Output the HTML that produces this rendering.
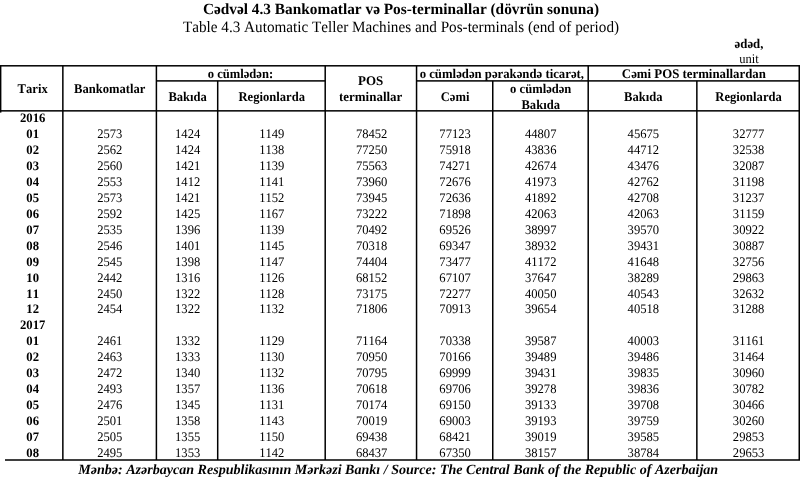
<!DOCTYPE html>
<html><head><meta charset="utf-8"><title>Cədvəl 4.3</title>
<style>
html,body{margin:0;padding:0;background:#fff;}
#w{position:absolute;left:0;top:0;width:800px;height:498px;overflow:hidden}
body{width:800px;height:498px;position:relative;overflow:hidden;font-family:"Liberation Serif",serif;color:#000;}
.t{text-rendering:geometricPrecision;font-kerning:none;font-variant-ligatures:none;position:absolute;white-space:nowrap;text-align:center;line-height:1;}
.b{font-weight:bold;}
.l{position:absolute;background:#000;}
.h{font-size:12.6px;font-weight:bold;}
.d{font-size:12.6px;}
.r{font-size:12.7px;font-weight:bold;}
</style></head><body><div id="w">

<svg width="800" height="498" viewBox="0 0 800 498" style="position:absolute;left:0;top:0" fill="#000"><rect x="0.00" y="65.05" width="800.00" height="1.50"/><rect x="0.00" y="110.10" width="800.00" height="1.50"/><rect x="5.00" y="459.25" width="795.00" height="1.50"/><rect x="156.40" y="80.15" width="168.80" height="1.50"/><rect x="416.55" y="80.15" width="383.45" height="1.50"/><rect x="0.00" y="65.80" width="1.40" height="46.80"/><rect x="798.50" y="65.80" width="1.50" height="394.20"/><rect x="62.10" y="65.80" width="1.50" height="394.20"/><rect x="155.65" y="65.80" width="1.50" height="394.20"/><rect x="324.45" y="65.80" width="1.50" height="394.20"/><rect x="415.80" y="65.80" width="1.50" height="394.20"/><rect x="587.45" y="65.80" width="1.50" height="394.20"/><rect x="216.95" y="80.90" width="1.50" height="379.10"/><rect x="492.00" y="80.90" width="1.50" height="379.10"/><rect x="696.10" y="80.90" width="1.50" height="379.10"/></svg>
<div class="t b" style="left:1.00px;width:800.00px;top:0.00px;height:20px;line-height:20px;font-size:15.56px;transform:scaleX(0.9852);">Cədvəl 4.3 Bankomatlar və Pos-terminallar (dövrün sonuna)</div>
<div class="t " style="left:1.00px;width:800.00px;top:18.00px;height:20px;line-height:20px;font-size:15.80px;transform:scaleX(0.9614);">Table 4.3 Automatic Teller Machines and Pos-terminals (end of period)</div>
<div class="t b" style="left:721.00px;width:56.00px;top:34.00px;height:20px;line-height:20px;font-size:13.33px;transform:scaleX(0.9602);">ədəd,</div>
<div class="t " style="left:721.00px;width:56.00px;top:48.50px;height:20px;line-height:20px;font-size:13.33px;transform:scaleX(0.9377);">unit</div>
<div class="t b" style="left:0.00px;width:800.00px;top:460.20px;height:20px;line-height:20px;font-size:14.06px;transform:scaleX(1.0000);transform-origin:0 50%;text-align:left;font-style:italic;left:78.2px;width:auto;">Mənbə: Azərbaycan Respublikasının Mərkəzi Bankı / Source: The Central Bank of the Republic of Azerbaijan</div>
<div class="t h" style="left:1.50px;width:61.35px;top:79.22px;height:20px;line-height:20px;font-size:13.20px;transform:scaleX(0.9545);">Tarix</div>
<div class="t h" style="left:62.85px;width:93.55px;top:79.22px;height:20px;line-height:20px;font-size:13.20px;transform:scaleX(0.9545);">Bankomatlar</div>
<div class="t h" style="left:155.70px;width:168.80px;top:63.95px;height:20px;line-height:20px;font-size:13.20px;transform:scaleX(0.9545);">o cümlədən:</div>
<div class="t h" style="left:157.00px;width:61.30px;top:86.78px;height:20px;line-height:20px;font-size:13.20px;transform:scaleX(0.9545);">Bakıda</div>
<div class="t h" style="left:217.70px;width:107.50px;top:86.78px;height:20px;line-height:20px;font-size:13.20px;transform:scaleX(0.9545);">Regionlarda</div>
<div class="t h" style="left:325.20px;width:91.35px;top:70.92px;height:20px;line-height:20px;font-size:13.20px;transform:scaleX(0.9832);">POS</div>
<div class="t h" style="left:325.20px;width:91.35px;top:86.72px;height:20px;line-height:20px;font-size:13.20px;transform:scaleX(0.9832);">terminallar</div>
<div class="t h" style="left:416.25px;width:171.65px;top:63.95px;height:20px;line-height:20px;font-size:13.20px;transform:scaleX(0.9670);">o cümlədən pərakəndə ticarət,</div>
<div class="t h" style="left:587.90px;width:211.80px;top:63.95px;height:20px;line-height:20px;font-size:13.20px;transform:scaleX(0.9736);">Cəmi POS terminallardan</div>
<div class="t h" style="left:416.55px;width:76.20px;top:86.78px;height:20px;line-height:20px;font-size:13.20px;transform:scaleX(0.9545);">Cəmi</div>
<div class="t h" style="left:492.75px;width:95.45px;top:79.28px;height:20px;line-height:20px;font-size:13.20px;transform:scaleX(0.9545);">o cümlədən</div>
<div class="t h" style="left:492.75px;width:95.45px;top:95.18px;height:20px;line-height:20px;font-size:13.20px;transform:scaleX(0.9545);">Bakıda</div>
<div class="t h" style="left:588.80px;width:108.65px;top:86.78px;height:20px;line-height:20px;font-size:13.20px;transform:scaleX(0.9545);">Bakıda</div>
<div class="t h" style="left:696.85px;width:103.15px;top:86.78px;height:20px;line-height:20px;font-size:13.20px;transform:scaleX(0.9545);">Regionlarda</div>
<div class="t r" style="left:1.50px;width:61.35px;top:108.05px;height:20px;line-height:20px;font-size:12.90px;transform:scaleX(0.9845);">2016</div>
<div class="t r" style="left:1.50px;width:61.35px;top:124.00px;height:20px;line-height:20px;font-size:12.90px;transform:scaleX(0.9845);">01</div>
<div class="t d" style="left:63.35px;width:93.55px;top:124.00px;height:20px;line-height:20px;font-size:13.10px;transform:scaleX(0.9618);">2573</div>
<div class="t d" style="left:156.90px;width:61.30px;top:124.00px;height:20px;line-height:20px;font-size:13.10px;transform:scaleX(0.9618);">1424</div>
<div class="t d" style="left:218.20px;width:107.50px;top:124.00px;height:20px;line-height:20px;font-size:13.10px;transform:scaleX(0.9618);">1149</div>
<div class="t d" style="left:325.70px;width:91.35px;top:124.00px;height:20px;line-height:20px;font-size:13.10px;transform:scaleX(0.9618);">78452</div>
<div class="t d" style="left:417.05px;width:76.20px;top:124.00px;height:20px;line-height:20px;font-size:13.10px;transform:scaleX(0.9618);">77123</div>
<div class="t d" style="left:493.25px;width:95.45px;top:124.00px;height:20px;line-height:20px;font-size:13.10px;transform:scaleX(0.9618);">44807</div>
<div class="t d" style="left:588.70px;width:108.65px;top:124.00px;height:20px;line-height:20px;font-size:13.10px;transform:scaleX(0.9618);">45675</div>
<div class="t d" style="left:697.35px;width:103.15px;top:124.00px;height:20px;line-height:20px;font-size:13.10px;transform:scaleX(0.9618);">32777</div>
<div class="t r" style="left:1.50px;width:61.35px;top:139.95px;height:20px;line-height:20px;font-size:12.90px;transform:scaleX(0.9845);">02</div>
<div class="t d" style="left:63.35px;width:93.55px;top:139.95px;height:20px;line-height:20px;font-size:13.10px;transform:scaleX(0.9618);">2562</div>
<div class="t d" style="left:156.90px;width:61.30px;top:139.95px;height:20px;line-height:20px;font-size:13.10px;transform:scaleX(0.9618);">1424</div>
<div class="t d" style="left:218.20px;width:107.50px;top:139.95px;height:20px;line-height:20px;font-size:13.10px;transform:scaleX(0.9618);">1138</div>
<div class="t d" style="left:325.70px;width:91.35px;top:139.95px;height:20px;line-height:20px;font-size:13.10px;transform:scaleX(0.9618);">77250</div>
<div class="t d" style="left:417.05px;width:76.20px;top:139.95px;height:20px;line-height:20px;font-size:13.10px;transform:scaleX(0.9618);">75918</div>
<div class="t d" style="left:493.25px;width:95.45px;top:139.95px;height:20px;line-height:20px;font-size:13.10px;transform:scaleX(0.9618);">43836</div>
<div class="t d" style="left:588.70px;width:108.65px;top:139.95px;height:20px;line-height:20px;font-size:13.10px;transform:scaleX(0.9618);">44712</div>
<div class="t d" style="left:697.35px;width:103.15px;top:139.95px;height:20px;line-height:20px;font-size:13.10px;transform:scaleX(0.9618);">32538</div>
<div class="t r" style="left:1.50px;width:61.35px;top:155.90px;height:20px;line-height:20px;font-size:12.90px;transform:scaleX(0.9845);">03</div>
<div class="t d" style="left:63.35px;width:93.55px;top:155.90px;height:20px;line-height:20px;font-size:13.10px;transform:scaleX(0.9618);">2560</div>
<div class="t d" style="left:156.90px;width:61.30px;top:155.90px;height:20px;line-height:20px;font-size:13.10px;transform:scaleX(0.9618);">1421</div>
<div class="t d" style="left:218.20px;width:107.50px;top:155.90px;height:20px;line-height:20px;font-size:13.10px;transform:scaleX(0.9618);">1139</div>
<div class="t d" style="left:325.70px;width:91.35px;top:155.90px;height:20px;line-height:20px;font-size:13.10px;transform:scaleX(0.9618);">75563</div>
<div class="t d" style="left:417.05px;width:76.20px;top:155.90px;height:20px;line-height:20px;font-size:13.10px;transform:scaleX(0.9618);">74271</div>
<div class="t d" style="left:493.25px;width:95.45px;top:155.90px;height:20px;line-height:20px;font-size:13.10px;transform:scaleX(0.9618);">42674</div>
<div class="t d" style="left:588.70px;width:108.65px;top:155.90px;height:20px;line-height:20px;font-size:13.10px;transform:scaleX(0.9618);">43476</div>
<div class="t d" style="left:697.35px;width:103.15px;top:155.90px;height:20px;line-height:20px;font-size:13.10px;transform:scaleX(0.9618);">32087</div>
<div class="t r" style="left:1.50px;width:61.35px;top:171.85px;height:20px;line-height:20px;font-size:12.90px;transform:scaleX(0.9845);">04</div>
<div class="t d" style="left:63.35px;width:93.55px;top:171.85px;height:20px;line-height:20px;font-size:13.10px;transform:scaleX(0.9618);">2553</div>
<div class="t d" style="left:156.90px;width:61.30px;top:171.85px;height:20px;line-height:20px;font-size:13.10px;transform:scaleX(0.9618);">1412</div>
<div class="t d" style="left:218.20px;width:107.50px;top:171.85px;height:20px;line-height:20px;font-size:13.10px;transform:scaleX(0.9618);">1141</div>
<div class="t d" style="left:325.70px;width:91.35px;top:171.85px;height:20px;line-height:20px;font-size:13.10px;transform:scaleX(0.9618);">73960</div>
<div class="t d" style="left:417.05px;width:76.20px;top:171.85px;height:20px;line-height:20px;font-size:13.10px;transform:scaleX(0.9618);">72676</div>
<div class="t d" style="left:493.25px;width:95.45px;top:171.85px;height:20px;line-height:20px;font-size:13.10px;transform:scaleX(0.9618);">41973</div>
<div class="t d" style="left:588.70px;width:108.65px;top:171.85px;height:20px;line-height:20px;font-size:13.10px;transform:scaleX(0.9618);">42762</div>
<div class="t d" style="left:697.35px;width:103.15px;top:171.85px;height:20px;line-height:20px;font-size:13.10px;transform:scaleX(0.9618);">31198</div>
<div class="t r" style="left:1.50px;width:61.35px;top:187.80px;height:20px;line-height:20px;font-size:12.90px;transform:scaleX(0.9845);">05</div>
<div class="t d" style="left:63.35px;width:93.55px;top:187.80px;height:20px;line-height:20px;font-size:13.10px;transform:scaleX(0.9618);">2573</div>
<div class="t d" style="left:156.90px;width:61.30px;top:187.80px;height:20px;line-height:20px;font-size:13.10px;transform:scaleX(0.9618);">1421</div>
<div class="t d" style="left:218.20px;width:107.50px;top:187.80px;height:20px;line-height:20px;font-size:13.10px;transform:scaleX(0.9618);">1152</div>
<div class="t d" style="left:325.70px;width:91.35px;top:187.80px;height:20px;line-height:20px;font-size:13.10px;transform:scaleX(0.9618);">73945</div>
<div class="t d" style="left:417.05px;width:76.20px;top:187.80px;height:20px;line-height:20px;font-size:13.10px;transform:scaleX(0.9618);">72636</div>
<div class="t d" style="left:493.25px;width:95.45px;top:187.80px;height:20px;line-height:20px;font-size:13.10px;transform:scaleX(0.9618);">41892</div>
<div class="t d" style="left:588.70px;width:108.65px;top:187.80px;height:20px;line-height:20px;font-size:13.10px;transform:scaleX(0.9618);">42708</div>
<div class="t d" style="left:697.35px;width:103.15px;top:187.80px;height:20px;line-height:20px;font-size:13.10px;transform:scaleX(0.9618);">31237</div>
<div class="t r" style="left:1.50px;width:61.35px;top:203.75px;height:20px;line-height:20px;font-size:12.90px;transform:scaleX(0.9845);">06</div>
<div class="t d" style="left:63.35px;width:93.55px;top:203.75px;height:20px;line-height:20px;font-size:13.10px;transform:scaleX(0.9618);">2592</div>
<div class="t d" style="left:156.90px;width:61.30px;top:203.75px;height:20px;line-height:20px;font-size:13.10px;transform:scaleX(0.9618);">1425</div>
<div class="t d" style="left:218.20px;width:107.50px;top:203.75px;height:20px;line-height:20px;font-size:13.10px;transform:scaleX(0.9618);">1167</div>
<div class="t d" style="left:325.70px;width:91.35px;top:203.75px;height:20px;line-height:20px;font-size:13.10px;transform:scaleX(0.9618);">73222</div>
<div class="t d" style="left:417.05px;width:76.20px;top:203.75px;height:20px;line-height:20px;font-size:13.10px;transform:scaleX(0.9618);">71898</div>
<div class="t d" style="left:493.25px;width:95.45px;top:203.75px;height:20px;line-height:20px;font-size:13.10px;transform:scaleX(0.9618);">42063</div>
<div class="t d" style="left:588.70px;width:108.65px;top:203.75px;height:20px;line-height:20px;font-size:13.10px;transform:scaleX(0.9618);">42063</div>
<div class="t d" style="left:697.35px;width:103.15px;top:203.75px;height:20px;line-height:20px;font-size:13.10px;transform:scaleX(0.9618);">31159</div>
<div class="t r" style="left:1.50px;width:61.35px;top:219.70px;height:20px;line-height:20px;font-size:12.90px;transform:scaleX(0.9845);">07</div>
<div class="t d" style="left:63.35px;width:93.55px;top:219.70px;height:20px;line-height:20px;font-size:13.10px;transform:scaleX(0.9618);">2535</div>
<div class="t d" style="left:156.90px;width:61.30px;top:219.70px;height:20px;line-height:20px;font-size:13.10px;transform:scaleX(0.9618);">1396</div>
<div class="t d" style="left:218.20px;width:107.50px;top:219.70px;height:20px;line-height:20px;font-size:13.10px;transform:scaleX(0.9618);">1139</div>
<div class="t d" style="left:325.70px;width:91.35px;top:219.70px;height:20px;line-height:20px;font-size:13.10px;transform:scaleX(0.9618);">70492</div>
<div class="t d" style="left:417.05px;width:76.20px;top:219.70px;height:20px;line-height:20px;font-size:13.10px;transform:scaleX(0.9618);">69526</div>
<div class="t d" style="left:493.25px;width:95.45px;top:219.70px;height:20px;line-height:20px;font-size:13.10px;transform:scaleX(0.9618);">38997</div>
<div class="t d" style="left:588.70px;width:108.65px;top:219.70px;height:20px;line-height:20px;font-size:13.10px;transform:scaleX(0.9618);">39570</div>
<div class="t d" style="left:697.35px;width:103.15px;top:219.70px;height:20px;line-height:20px;font-size:13.10px;transform:scaleX(0.9618);">30922</div>
<div class="t r" style="left:1.50px;width:61.35px;top:235.65px;height:20px;line-height:20px;font-size:12.90px;transform:scaleX(0.9845);">08</div>
<div class="t d" style="left:63.35px;width:93.55px;top:235.65px;height:20px;line-height:20px;font-size:13.10px;transform:scaleX(0.9618);">2546</div>
<div class="t d" style="left:156.90px;width:61.30px;top:235.65px;height:20px;line-height:20px;font-size:13.10px;transform:scaleX(0.9618);">1401</div>
<div class="t d" style="left:218.20px;width:107.50px;top:235.65px;height:20px;line-height:20px;font-size:13.10px;transform:scaleX(0.9618);">1145</div>
<div class="t d" style="left:325.70px;width:91.35px;top:235.65px;height:20px;line-height:20px;font-size:13.10px;transform:scaleX(0.9618);">70318</div>
<div class="t d" style="left:417.05px;width:76.20px;top:235.65px;height:20px;line-height:20px;font-size:13.10px;transform:scaleX(0.9618);">69347</div>
<div class="t d" style="left:493.25px;width:95.45px;top:235.65px;height:20px;line-height:20px;font-size:13.10px;transform:scaleX(0.9618);">38932</div>
<div class="t d" style="left:588.70px;width:108.65px;top:235.65px;height:20px;line-height:20px;font-size:13.10px;transform:scaleX(0.9618);">39431</div>
<div class="t d" style="left:697.35px;width:103.15px;top:235.65px;height:20px;line-height:20px;font-size:13.10px;transform:scaleX(0.9618);">30887</div>
<div class="t r" style="left:1.50px;width:61.35px;top:251.60px;height:20px;line-height:20px;font-size:12.90px;transform:scaleX(0.9845);">09</div>
<div class="t d" style="left:63.35px;width:93.55px;top:251.60px;height:20px;line-height:20px;font-size:13.10px;transform:scaleX(0.9618);">2545</div>
<div class="t d" style="left:156.90px;width:61.30px;top:251.60px;height:20px;line-height:20px;font-size:13.10px;transform:scaleX(0.9618);">1398</div>
<div class="t d" style="left:218.20px;width:107.50px;top:251.60px;height:20px;line-height:20px;font-size:13.10px;transform:scaleX(0.9618);">1147</div>
<div class="t d" style="left:325.70px;width:91.35px;top:251.60px;height:20px;line-height:20px;font-size:13.10px;transform:scaleX(0.9618);">74404</div>
<div class="t d" style="left:417.05px;width:76.20px;top:251.60px;height:20px;line-height:20px;font-size:13.10px;transform:scaleX(0.9618);">73477</div>
<div class="t d" style="left:493.25px;width:95.45px;top:251.60px;height:20px;line-height:20px;font-size:13.10px;transform:scaleX(0.9618);">41172</div>
<div class="t d" style="left:588.70px;width:108.65px;top:251.60px;height:20px;line-height:20px;font-size:13.10px;transform:scaleX(0.9618);">41648</div>
<div class="t d" style="left:697.35px;width:103.15px;top:251.60px;height:20px;line-height:20px;font-size:13.10px;transform:scaleX(0.9618);">32756</div>
<div class="t r" style="left:1.50px;width:61.35px;top:267.55px;height:20px;line-height:20px;font-size:12.90px;transform:scaleX(0.9845);">10</div>
<div class="t d" style="left:63.35px;width:93.55px;top:267.55px;height:20px;line-height:20px;font-size:13.10px;transform:scaleX(0.9618);">2442</div>
<div class="t d" style="left:156.90px;width:61.30px;top:267.55px;height:20px;line-height:20px;font-size:13.10px;transform:scaleX(0.9618);">1316</div>
<div class="t d" style="left:218.20px;width:107.50px;top:267.55px;height:20px;line-height:20px;font-size:13.10px;transform:scaleX(0.9618);">1126</div>
<div class="t d" style="left:325.70px;width:91.35px;top:267.55px;height:20px;line-height:20px;font-size:13.10px;transform:scaleX(0.9618);">68152</div>
<div class="t d" style="left:417.05px;width:76.20px;top:267.55px;height:20px;line-height:20px;font-size:13.10px;transform:scaleX(0.9618);">67107</div>
<div class="t d" style="left:493.25px;width:95.45px;top:267.55px;height:20px;line-height:20px;font-size:13.10px;transform:scaleX(0.9618);">37647</div>
<div class="t d" style="left:588.70px;width:108.65px;top:267.55px;height:20px;line-height:20px;font-size:13.10px;transform:scaleX(0.9618);">38289</div>
<div class="t d" style="left:697.35px;width:103.15px;top:267.55px;height:20px;line-height:20px;font-size:13.10px;transform:scaleX(0.9618);">29863</div>
<div class="t r" style="left:1.50px;width:61.35px;top:283.50px;height:20px;line-height:20px;font-size:12.90px;transform:scaleX(0.9845);">11</div>
<div class="t d" style="left:63.35px;width:93.55px;top:283.50px;height:20px;line-height:20px;font-size:13.10px;transform:scaleX(0.9618);">2450</div>
<div class="t d" style="left:156.90px;width:61.30px;top:283.50px;height:20px;line-height:20px;font-size:13.10px;transform:scaleX(0.9618);">1322</div>
<div class="t d" style="left:218.20px;width:107.50px;top:283.50px;height:20px;line-height:20px;font-size:13.10px;transform:scaleX(0.9618);">1128</div>
<div class="t d" style="left:325.70px;width:91.35px;top:283.50px;height:20px;line-height:20px;font-size:13.10px;transform:scaleX(0.9618);">73175</div>
<div class="t d" style="left:417.05px;width:76.20px;top:283.50px;height:20px;line-height:20px;font-size:13.10px;transform:scaleX(0.9618);">72277</div>
<div class="t d" style="left:493.25px;width:95.45px;top:283.50px;height:20px;line-height:20px;font-size:13.10px;transform:scaleX(0.9618);">40050</div>
<div class="t d" style="left:588.70px;width:108.65px;top:283.50px;height:20px;line-height:20px;font-size:13.10px;transform:scaleX(0.9618);">40543</div>
<div class="t d" style="left:697.35px;width:103.15px;top:283.50px;height:20px;line-height:20px;font-size:13.10px;transform:scaleX(0.9618);">32632</div>
<div class="t r" style="left:1.50px;width:61.35px;top:299.45px;height:20px;line-height:20px;font-size:12.90px;transform:scaleX(0.9845);">12</div>
<div class="t d" style="left:63.35px;width:93.55px;top:299.45px;height:20px;line-height:20px;font-size:13.10px;transform:scaleX(0.9618);">2454</div>
<div class="t d" style="left:156.90px;width:61.30px;top:299.45px;height:20px;line-height:20px;font-size:13.10px;transform:scaleX(0.9618);">1322</div>
<div class="t d" style="left:218.20px;width:107.50px;top:299.45px;height:20px;line-height:20px;font-size:13.10px;transform:scaleX(0.9618);">1132</div>
<div class="t d" style="left:325.70px;width:91.35px;top:299.45px;height:20px;line-height:20px;font-size:13.10px;transform:scaleX(0.9618);">71806</div>
<div class="t d" style="left:417.05px;width:76.20px;top:299.45px;height:20px;line-height:20px;font-size:13.10px;transform:scaleX(0.9618);">70913</div>
<div class="t d" style="left:493.25px;width:95.45px;top:299.45px;height:20px;line-height:20px;font-size:13.10px;transform:scaleX(0.9618);">39654</div>
<div class="t d" style="left:588.70px;width:108.65px;top:299.45px;height:20px;line-height:20px;font-size:13.10px;transform:scaleX(0.9618);">40518</div>
<div class="t d" style="left:697.35px;width:103.15px;top:299.45px;height:20px;line-height:20px;font-size:13.10px;transform:scaleX(0.9618);">31288</div>
<div class="t r" style="left:1.50px;width:61.35px;top:315.40px;height:20px;line-height:20px;font-size:12.90px;transform:scaleX(0.9845);">2017</div>
<div class="t r" style="left:1.50px;width:61.35px;top:331.35px;height:20px;line-height:20px;font-size:12.90px;transform:scaleX(0.9845);">01</div>
<div class="t d" style="left:63.35px;width:93.55px;top:331.35px;height:20px;line-height:20px;font-size:13.10px;transform:scaleX(0.9618);">2461</div>
<div class="t d" style="left:156.90px;width:61.30px;top:331.35px;height:20px;line-height:20px;font-size:13.10px;transform:scaleX(0.9618);">1332</div>
<div class="t d" style="left:218.20px;width:107.50px;top:331.35px;height:20px;line-height:20px;font-size:13.10px;transform:scaleX(0.9618);">1129</div>
<div class="t d" style="left:325.70px;width:91.35px;top:331.35px;height:20px;line-height:20px;font-size:13.10px;transform:scaleX(0.9618);">71164</div>
<div class="t d" style="left:417.05px;width:76.20px;top:331.35px;height:20px;line-height:20px;font-size:13.10px;transform:scaleX(0.9618);">70338</div>
<div class="t d" style="left:493.25px;width:95.45px;top:331.35px;height:20px;line-height:20px;font-size:13.10px;transform:scaleX(0.9618);">39587</div>
<div class="t d" style="left:588.70px;width:108.65px;top:331.35px;height:20px;line-height:20px;font-size:13.10px;transform:scaleX(0.9618);">40003</div>
<div class="t d" style="left:697.35px;width:103.15px;top:331.35px;height:20px;line-height:20px;font-size:13.10px;transform:scaleX(0.9618);">31161</div>
<div class="t r" style="left:1.50px;width:61.35px;top:347.30px;height:20px;line-height:20px;font-size:12.90px;transform:scaleX(0.9845);">02</div>
<div class="t d" style="left:63.35px;width:93.55px;top:347.30px;height:20px;line-height:20px;font-size:13.10px;transform:scaleX(0.9618);">2463</div>
<div class="t d" style="left:156.90px;width:61.30px;top:347.30px;height:20px;line-height:20px;font-size:13.10px;transform:scaleX(0.9618);">1333</div>
<div class="t d" style="left:218.20px;width:107.50px;top:347.30px;height:20px;line-height:20px;font-size:13.10px;transform:scaleX(0.9618);">1130</div>
<div class="t d" style="left:325.70px;width:91.35px;top:347.30px;height:20px;line-height:20px;font-size:13.10px;transform:scaleX(0.9618);">70950</div>
<div class="t d" style="left:417.05px;width:76.20px;top:347.30px;height:20px;line-height:20px;font-size:13.10px;transform:scaleX(0.9618);">70166</div>
<div class="t d" style="left:493.25px;width:95.45px;top:347.30px;height:20px;line-height:20px;font-size:13.10px;transform:scaleX(0.9618);">39489</div>
<div class="t d" style="left:588.70px;width:108.65px;top:347.30px;height:20px;line-height:20px;font-size:13.10px;transform:scaleX(0.9618);">39486</div>
<div class="t d" style="left:697.35px;width:103.15px;top:347.30px;height:20px;line-height:20px;font-size:13.10px;transform:scaleX(0.9618);">31464</div>
<div class="t r" style="left:1.50px;width:61.35px;top:363.25px;height:20px;line-height:20px;font-size:12.90px;transform:scaleX(0.9845);">03</div>
<div class="t d" style="left:63.35px;width:93.55px;top:363.25px;height:20px;line-height:20px;font-size:13.10px;transform:scaleX(0.9618);">2472</div>
<div class="t d" style="left:156.90px;width:61.30px;top:363.25px;height:20px;line-height:20px;font-size:13.10px;transform:scaleX(0.9618);">1340</div>
<div class="t d" style="left:218.20px;width:107.50px;top:363.25px;height:20px;line-height:20px;font-size:13.10px;transform:scaleX(0.9618);">1132</div>
<div class="t d" style="left:325.70px;width:91.35px;top:363.25px;height:20px;line-height:20px;font-size:13.10px;transform:scaleX(0.9618);">70795</div>
<div class="t d" style="left:417.05px;width:76.20px;top:363.25px;height:20px;line-height:20px;font-size:13.10px;transform:scaleX(0.9618);">69999</div>
<div class="t d" style="left:493.25px;width:95.45px;top:363.25px;height:20px;line-height:20px;font-size:13.10px;transform:scaleX(0.9618);">39431</div>
<div class="t d" style="left:588.70px;width:108.65px;top:363.25px;height:20px;line-height:20px;font-size:13.10px;transform:scaleX(0.9618);">39835</div>
<div class="t d" style="left:697.35px;width:103.15px;top:363.25px;height:20px;line-height:20px;font-size:13.10px;transform:scaleX(0.9618);">30960</div>
<div class="t r" style="left:1.50px;width:61.35px;top:379.20px;height:20px;line-height:20px;font-size:12.90px;transform:scaleX(0.9845);">04</div>
<div class="t d" style="left:63.35px;width:93.55px;top:379.20px;height:20px;line-height:20px;font-size:13.10px;transform:scaleX(0.9618);">2493</div>
<div class="t d" style="left:156.90px;width:61.30px;top:379.20px;height:20px;line-height:20px;font-size:13.10px;transform:scaleX(0.9618);">1357</div>
<div class="t d" style="left:218.20px;width:107.50px;top:379.20px;height:20px;line-height:20px;font-size:13.10px;transform:scaleX(0.9618);">1136</div>
<div class="t d" style="left:325.70px;width:91.35px;top:379.20px;height:20px;line-height:20px;font-size:13.10px;transform:scaleX(0.9618);">70618</div>
<div class="t d" style="left:417.05px;width:76.20px;top:379.20px;height:20px;line-height:20px;font-size:13.10px;transform:scaleX(0.9618);">69706</div>
<div class="t d" style="left:493.25px;width:95.45px;top:379.20px;height:20px;line-height:20px;font-size:13.10px;transform:scaleX(0.9618);">39278</div>
<div class="t d" style="left:588.70px;width:108.65px;top:379.20px;height:20px;line-height:20px;font-size:13.10px;transform:scaleX(0.9618);">39836</div>
<div class="t d" style="left:697.35px;width:103.15px;top:379.20px;height:20px;line-height:20px;font-size:13.10px;transform:scaleX(0.9618);">30782</div>
<div class="t r" style="left:1.50px;width:61.35px;top:395.15px;height:20px;line-height:20px;font-size:12.90px;transform:scaleX(0.9845);">05</div>
<div class="t d" style="left:63.35px;width:93.55px;top:395.15px;height:20px;line-height:20px;font-size:13.10px;transform:scaleX(0.9618);">2476</div>
<div class="t d" style="left:156.90px;width:61.30px;top:395.15px;height:20px;line-height:20px;font-size:13.10px;transform:scaleX(0.9618);">1345</div>
<div class="t d" style="left:218.20px;width:107.50px;top:395.15px;height:20px;line-height:20px;font-size:13.10px;transform:scaleX(0.9618);">1131</div>
<div class="t d" style="left:325.70px;width:91.35px;top:395.15px;height:20px;line-height:20px;font-size:13.10px;transform:scaleX(0.9618);">70174</div>
<div class="t d" style="left:417.05px;width:76.20px;top:395.15px;height:20px;line-height:20px;font-size:13.10px;transform:scaleX(0.9618);">69150</div>
<div class="t d" style="left:493.25px;width:95.45px;top:395.15px;height:20px;line-height:20px;font-size:13.10px;transform:scaleX(0.9618);">39133</div>
<div class="t d" style="left:588.70px;width:108.65px;top:395.15px;height:20px;line-height:20px;font-size:13.10px;transform:scaleX(0.9618);">39708</div>
<div class="t d" style="left:697.35px;width:103.15px;top:395.15px;height:20px;line-height:20px;font-size:13.10px;transform:scaleX(0.9618);">30466</div>
<div class="t r" style="left:1.50px;width:61.35px;top:411.10px;height:20px;line-height:20px;font-size:12.90px;transform:scaleX(0.9845);">06</div>
<div class="t d" style="left:63.35px;width:93.55px;top:411.10px;height:20px;line-height:20px;font-size:13.10px;transform:scaleX(0.9618);">2501</div>
<div class="t d" style="left:156.90px;width:61.30px;top:411.10px;height:20px;line-height:20px;font-size:13.10px;transform:scaleX(0.9618);">1358</div>
<div class="t d" style="left:218.20px;width:107.50px;top:411.10px;height:20px;line-height:20px;font-size:13.10px;transform:scaleX(0.9618);">1143</div>
<div class="t d" style="left:325.70px;width:91.35px;top:411.10px;height:20px;line-height:20px;font-size:13.10px;transform:scaleX(0.9618);">70019</div>
<div class="t d" style="left:417.05px;width:76.20px;top:411.10px;height:20px;line-height:20px;font-size:13.10px;transform:scaleX(0.9618);">69003</div>
<div class="t d" style="left:493.25px;width:95.45px;top:411.10px;height:20px;line-height:20px;font-size:13.10px;transform:scaleX(0.9618);">39193</div>
<div class="t d" style="left:588.70px;width:108.65px;top:411.10px;height:20px;line-height:20px;font-size:13.10px;transform:scaleX(0.9618);">39759</div>
<div class="t d" style="left:697.35px;width:103.15px;top:411.10px;height:20px;line-height:20px;font-size:13.10px;transform:scaleX(0.9618);">30260</div>
<div class="t r" style="left:1.50px;width:61.35px;top:427.05px;height:20px;line-height:20px;font-size:12.90px;transform:scaleX(0.9845);">07</div>
<div class="t d" style="left:63.35px;width:93.55px;top:427.05px;height:20px;line-height:20px;font-size:13.10px;transform:scaleX(0.9618);">2505</div>
<div class="t d" style="left:156.90px;width:61.30px;top:427.05px;height:20px;line-height:20px;font-size:13.10px;transform:scaleX(0.9618);">1355</div>
<div class="t d" style="left:218.20px;width:107.50px;top:427.05px;height:20px;line-height:20px;font-size:13.10px;transform:scaleX(0.9618);">1150</div>
<div class="t d" style="left:325.70px;width:91.35px;top:427.05px;height:20px;line-height:20px;font-size:13.10px;transform:scaleX(0.9618);">69438</div>
<div class="t d" style="left:417.05px;width:76.20px;top:427.05px;height:20px;line-height:20px;font-size:13.10px;transform:scaleX(0.9618);">68421</div>
<div class="t d" style="left:493.25px;width:95.45px;top:427.05px;height:20px;line-height:20px;font-size:13.10px;transform:scaleX(0.9618);">39019</div>
<div class="t d" style="left:588.70px;width:108.65px;top:427.05px;height:20px;line-height:20px;font-size:13.10px;transform:scaleX(0.9618);">39585</div>
<div class="t d" style="left:697.35px;width:103.15px;top:427.05px;height:20px;line-height:20px;font-size:13.10px;transform:scaleX(0.9618);">29853</div>
<div class="t r" style="left:1.50px;width:61.35px;top:443.00px;height:20px;line-height:20px;font-size:12.90px;transform:scaleX(0.9845);">08</div>
<div class="t d" style="left:63.35px;width:93.55px;top:443.00px;height:20px;line-height:20px;font-size:13.10px;transform:scaleX(0.9618);">2495</div>
<div class="t d" style="left:156.90px;width:61.30px;top:443.00px;height:20px;line-height:20px;font-size:13.10px;transform:scaleX(0.9618);">1353</div>
<div class="t d" style="left:218.20px;width:107.50px;top:443.00px;height:20px;line-height:20px;font-size:13.10px;transform:scaleX(0.9618);">1142</div>
<div class="t d" style="left:325.70px;width:91.35px;top:443.00px;height:20px;line-height:20px;font-size:13.10px;transform:scaleX(0.9618);">68437</div>
<div class="t d" style="left:417.05px;width:76.20px;top:443.00px;height:20px;line-height:20px;font-size:13.10px;transform:scaleX(0.9618);">67350</div>
<div class="t d" style="left:493.25px;width:95.45px;top:443.00px;height:20px;line-height:20px;font-size:13.10px;transform:scaleX(0.9618);">38157</div>
<div class="t d" style="left:588.70px;width:108.65px;top:443.00px;height:20px;line-height:20px;font-size:13.10px;transform:scaleX(0.9618);">38784</div>
<div class="t d" style="left:697.35px;width:103.15px;top:443.00px;height:20px;line-height:20px;font-size:13.10px;transform:scaleX(0.9618);">29653</div>
</div></body></html>
